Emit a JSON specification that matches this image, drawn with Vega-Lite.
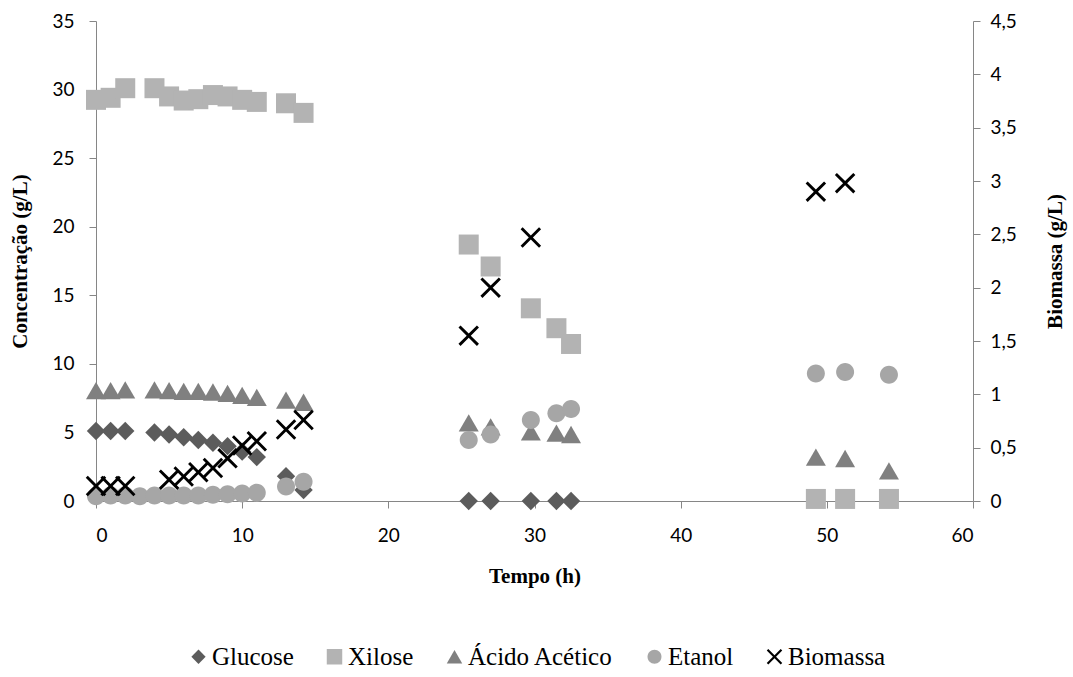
{
  "$schema": "https://vega.github.io/schema/vega-lite/v6.json",
  "width": 877,
  "height": 480,
  "autosize": {"type": "none"},
  "padding": {"left": 96, "top": 21, "right": 100, "bottom": 176},
  "background": "white",
  "config": {
    "font": "Liberation Serif",
    "view": {"stroke": null},
    "axis": {
      "grid": false,
      "domainColor": "#868686",
      "tickColor": "#868686",
      "tickSize": 7,
      "labelFont": "Lato",
      "labelFontSize": 19,
      "labelColor": "#000000",
      "titleFont": "Liberation Serif",
      "titleFontSize": 21,
      "titleFontWeight": "bold",
      "titleColor": "#000000"
    },
    "legend": {
      "labelFont": "Liberation Serif",
      "labelFontSize": 25,
      "labelColor": "#000000"
    }
  },
  "data": {
    "values": [
      {"t": 0, "serie": "Glucose", "valor": 5.1},
      {"t": 1, "serie": "Glucose", "valor": 5.1},
      {"t": 2, "serie": "Glucose", "valor": 5.1},
      {"t": 4, "serie": "Glucose", "valor": 5.0},
      {"t": 5, "serie": "Glucose", "valor": 4.85},
      {"t": 6, "serie": "Glucose", "valor": 4.65},
      {"t": 7, "serie": "Glucose", "valor": 4.45},
      {"t": 8, "serie": "Glucose", "valor": 4.25},
      {"t": 9, "serie": "Glucose", "valor": 4.0},
      {"t": 10, "serie": "Glucose", "valor": 3.6},
      {"t": 11, "serie": "Glucose", "valor": 3.2},
      {"t": 13, "serie": "Glucose", "valor": 1.8},
      {"t": 14.2, "serie": "Glucose", "valor": 0.8},
      {"t": 25.5, "serie": "Glucose", "valor": 0},
      {"t": 27, "serie": "Glucose", "valor": 0},
      {"t": 29.75, "serie": "Glucose", "valor": 0},
      {"t": 31.5, "serie": "Glucose", "valor": 0},
      {"t": 32.5, "serie": "Glucose", "valor": 0},
      {"t": 0, "serie": "Xilose", "valor": 29.25},
      {"t": 1, "serie": "Xilose", "valor": 29.4},
      {"t": 2, "serie": "Xilose", "valor": 30.1},
      {"t": 4, "serie": "Xilose", "valor": 30.1},
      {"t": 5, "serie": "Xilose", "valor": 29.5},
      {"t": 6, "serie": "Xilose", "valor": 29.2},
      {"t": 7, "serie": "Xilose", "valor": 29.3},
      {"t": 8, "serie": "Xilose", "valor": 29.6},
      {"t": 9, "serie": "Xilose", "valor": 29.5},
      {"t": 10, "serie": "Xilose", "valor": 29.25},
      {"t": 11, "serie": "Xilose", "valor": 29.1},
      {"t": 13, "serie": "Xilose", "valor": 29.0},
      {"t": 14.2, "serie": "Xilose", "valor": 28.3},
      {"t": 25.5, "serie": "Xilose", "valor": 18.7},
      {"t": 27, "serie": "Xilose", "valor": 17.1},
      {"t": 29.75, "serie": "Xilose", "valor": 14.05},
      {"t": 31.5, "serie": "Xilose", "valor": 12.6},
      {"t": 32.5, "serie": "Xilose", "valor": 11.45},
      {"t": 49.25, "serie": "Xilose", "valor": 0.15},
      {"t": 51.25, "serie": "Xilose", "valor": 0.15},
      {"t": 54.25, "serie": "Xilose", "valor": 0.15},
      {"t": 0, "serie": "Ácido Acético", "valor": 8.05},
      {"t": 1, "serie": "Ácido Acético", "valor": 8.05},
      {"t": 2, "serie": "Ácido Acético", "valor": 8.1},
      {"t": 4, "serie": "Ácido Acético", "valor": 8.1},
      {"t": 5, "serie": "Ácido Acético", "valor": 8.05},
      {"t": 6, "serie": "Ácido Acético", "valor": 8.0},
      {"t": 7, "serie": "Ácido Acético", "valor": 8.0},
      {"t": 8, "serie": "Ácido Acético", "valor": 7.95},
      {"t": 9, "serie": "Ácido Acético", "valor": 7.85},
      {"t": 10, "serie": "Ácido Acético", "valor": 7.7},
      {"t": 11, "serie": "Ácido Acético", "valor": 7.55},
      {"t": 13, "serie": "Ácido Acético", "valor": 7.35},
      {"t": 14.2, "serie": "Ácido Acético", "valor": 7.2},
      {"t": 25.5, "serie": "Ácido Acético", "valor": 5.7},
      {"t": 27, "serie": "Ácido Acético", "valor": 5.4},
      {"t": 29.75, "serie": "Ácido Acético", "valor": 5.05},
      {"t": 31.5, "serie": "Ácido Acético", "valor": 4.95},
      {"t": 32.5, "serie": "Ácido Acético", "valor": 4.85},
      {"t": 49.25, "serie": "Ácido Acético", "valor": 3.2},
      {"t": 51.25, "serie": "Ácido Acético", "valor": 3.1},
      {"t": 54.25, "serie": "Ácido Acético", "valor": 2.2},
      {"t": 0, "serie": "Etanol", "valor": 0.35},
      {"t": 1, "serie": "Etanol", "valor": 0.4},
      {"t": 2, "serie": "Etanol", "valor": 0.4},
      {"t": 3, "serie": "Etanol", "valor": 0.35},
      {"t": 4, "serie": "Etanol", "valor": 0.4},
      {"t": 5, "serie": "Etanol", "valor": 0.4},
      {"t": 6, "serie": "Etanol", "valor": 0.4},
      {"t": 7, "serie": "Etanol", "valor": 0.4},
      {"t": 8, "serie": "Etanol", "valor": 0.45},
      {"t": 9, "serie": "Etanol", "valor": 0.5},
      {"t": 10, "serie": "Etanol", "valor": 0.55},
      {"t": 11, "serie": "Etanol", "valor": 0.6},
      {"t": 13, "serie": "Etanol", "valor": 1.05},
      {"t": 14.2, "serie": "Etanol", "valor": 1.4},
      {"t": 25.5, "serie": "Etanol", "valor": 4.45},
      {"t": 27, "serie": "Etanol", "valor": 4.85},
      {"t": 29.75, "serie": "Etanol", "valor": 5.9},
      {"t": 31.5, "serie": "Etanol", "valor": 6.4},
      {"t": 32.5, "serie": "Etanol", "valor": 6.7},
      {"t": 49.25, "serie": "Etanol", "valor": 9.3},
      {"t": 51.25, "serie": "Etanol", "valor": 9.4},
      {"t": 54.25, "serie": "Etanol", "valor": 9.2},
      {"t": 0, "serie": "Biomassa", "valor": 0.14},
      {"t": 1, "serie": "Biomassa", "valor": 0.14},
      {"t": 2, "serie": "Biomassa", "valor": 0.14},
      {"t": 5, "serie": "Biomassa", "valor": 0.2},
      {"t": 6, "serie": "Biomassa", "valor": 0.23},
      {"t": 7, "serie": "Biomassa", "valor": 0.27},
      {"t": 8, "serie": "Biomassa", "valor": 0.31},
      {"t": 9, "serie": "Biomassa", "valor": 0.4},
      {"t": 10, "serie": "Biomassa", "valor": 0.52},
      {"t": 11, "serie": "Biomassa", "valor": 0.56},
      {"t": 13, "serie": "Biomassa", "valor": 0.67},
      {"t": 14.2, "serie": "Biomassa", "valor": 0.76},
      {"t": 25.5, "serie": "Biomassa", "valor": 1.55},
      {"t": 27, "serie": "Biomassa", "valor": 2.0},
      {"t": 29.75, "serie": "Biomassa", "valor": 2.47},
      {"t": 49.25, "serie": "Biomassa", "valor": 2.9},
      {"t": 51.25, "serie": "Biomassa", "valor": 2.98}
    ]
  },
  "encoding": {
    "x": {
      "field": "t",
      "type": "quantitative",
      "scale": {"domain": [0, 60], "nice": false, "zero": false},
      "axis": {
        "title": "Tempo (h)",
        "values": [0, 10, 20, 30, 40, 50, 60],
        "labelPadding": 18,
        "titlePadding": 20
      }
    },
    "color": {
      "field": "serie",
      "type": "nominal",
      "scale": {
        "domain": ["Glucose", "Xilose", "Ácido Acético", "Etanol", "Biomassa"],
        "range": ["#5c5c5c", "#b3b3b3", "#808080", "#a6a6a6", "#000000"]
      },
      "legend": {
        "title": null,
        "orient": "none",
        "direction": "horizontal",
        "legendX": 90,
        "legendY": 623,
        "symbolSize": 240,
        "symbolStrokeWidth": 0,
        "symbolOpacity": 1,
        "columnPadding": 28,
        "labelOffset": 1,
        "labelFont": "Liberation Serif",
        "labelFontSize": 25,
        "labelColor": "#000000"
      }
    },
    "shape": {
      "field": "serie",
      "type": "nominal",
      "scale": {
        "domain": ["Glucose", "Xilose", "Ácido Acético", "Etanol", "Biomassa"],
        "range": [
          "M-0.92,0L0,-0.92L0.92,0L0,0.92Z",
          "square",
          "triangle-up",
          "M-0.9,0A0.9,0.9 0 1,0 0.9,0A0.9,0.9 0 1,0 -0.9,0Z",
          "M-1,-0.8L-0.8,-1L0,-0.2L0.8,-1L1,-0.8L0.2,0L1,0.8L0.8,1L0,0.2L-0.8,1L-1,0.8L-0.2,0Z"
        ]
      },
      "legend": {
        "title": null,
        "orient": "none",
        "direction": "horizontal",
        "legendX": 90,
        "legendY": 623,
        "symbolSize": 240,
        "symbolStrokeWidth": 0,
        "symbolOpacity": 1,
        "columnPadding": 28,
        "labelOffset": 1,
        "labelFont": "Liberation Serif",
        "labelFontSize": 25,
        "labelColor": "#000000"
      }
    }
  },
  "layer": [
    {
      "transform": [{"filter": "datum.serie != 'Biomassa'"}],
      "mark": {"type": "point", "filled": true, "opacity": 1, "size": 400, "strokeWidth": 0},
      "encoding": {
        "y": {
          "field": "valor",
          "type": "quantitative",
          "scale": {"domain": [0, 35], "nice": false},
          "axis": {
            "title": "Concentração (g/L)",
            "values": [0, 5, 10, 15, 20, 25, 30, 35],
            "labelPadding": 15,
            "titlePadding": 21
          }
        }
      }
    },
    {
      "transform": [{"filter": "datum.serie == 'Biomassa'"}],
      "mark": {"type": "point", "filled": true, "opacity": 1, "size": 420, "strokeWidth": 0},
      "encoding": {
        "y": {
          "field": "valor",
          "type": "quantitative",
          "scale": {"domain": [0, 4.5], "nice": false},
          "axis": {
            "orient": "right",
            "title": "Biomassa (g/L)",
            "titleAngle": 270,
            "titleBaseline": "top",
            "values": [0, 0.5, 1, 1.5, 2, 2.5, 3, 3.5, 4, 4.5],
            "labelExpr": "replace(toString(datum.value), '.', ',')",
            "labelPadding": 10,
            "titlePadding": 28
          }
        }
      }
    }
  ],
  "resolve": {"scale": {"y": "independent"}}
}
